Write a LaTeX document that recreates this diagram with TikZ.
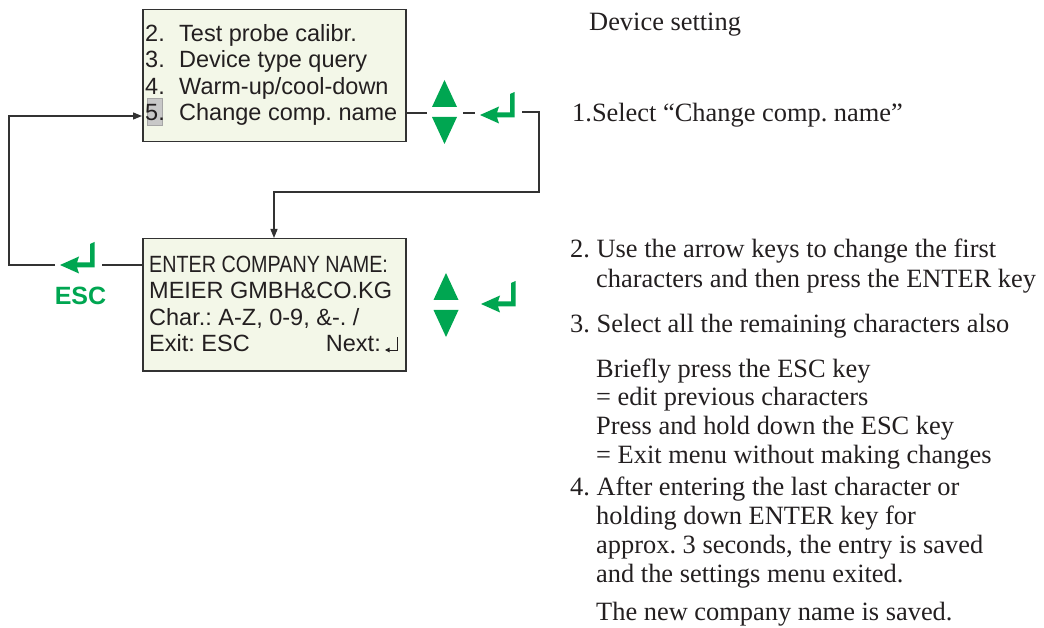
\documentclass[tikz,border=0pt]{standalone}
\usepackage{graphicx}
\usepackage{fontspec}
\setmainfont{Liberation Serif}
\newfontfamily\arialfont{Liberation Sans}
\usetikzlibrary{arrows.meta}
\definecolor{keygreen}{RGB}{0,166,81}
\definecolor{boxfill}{RGB}{243,247,232}
\definecolor{linegray}{RGB}{50,50,50}
\definecolor{hlgray}{RGB}{200,200,200}
\definecolor{ink}{RGB}{35,31,32}
\frenchspacing
\begin{document}
\begin{tikzpicture}[x=1pt,y=-1pt,
  lcd/.style={draw=linegray, line width=1.5pt, fill=boxfill, inner sep=0pt, anchor=north west, minimum width=263pt, minimum height=132pt},
  lcdtext/.style={anchor=base west, inner sep=0pt, text=ink, font=\arialfont\fontsize{23.5}{26}\selectfont},
  desc/.style={anchor=base west, inner sep=0pt, text=ink, font=\fontsize{26.4}{29}\selectfont},
  conn/.style={draw=linegray, line width=1.3pt},
  tipped/.style={-{Triangle[length=9pt,width=7pt]}},
  enterkey/.pic={\fill[keygreen] (0,0) -- (19,-8.5) -- (17,-2.5) -- (30,-2.5) -- (30,-21) -- (34.5,-23) -- (34.5,2.5) -- (17,2.5) -- (19,8.5) -- cycle;},
  updown/.pic={\fill[keygreen] (-12.5,0) -- (12.5,0) -- (0,-27) -- cycle;
               \fill[keygreen] (-12.5,10) -- (12.5,10) -- (0,37) -- cycle;}
]
\useasboundingbox (0,0) rectangle (1044,628);

% ---- top display
\node[lcd] (box1) at (142,9) {};
\node[fill=hlgray, draw=black!35, line width=0.6pt, inner sep=0pt, anchor=north west,
      minimum width=15pt, minimum height=27pt] (hl5) at (147,98) {};
\node[lcdtext] (n2) at (145,42) {2.};
\node[lcdtext] (m2) at (179,42) {Test probe calibr.};
\node[lcdtext] (n3) at (145,68) {3.};
\node[lcdtext] (m3) at (179,68) {Device type query};
\node[lcdtext] (n4) at (145,95) {4.};
\node[lcdtext] (m4) at (179,95) {Warm-up/cool-down};
\node[lcdtext] (n5) at (145,121) {5.};
\node[lcdtext] (m5) at (179,121) {Change comp. name};

% ---- bottom display
\node[lcd] (box2) at (142,238) {};
\node[lcdtext] (e1) at (149,273) {\scalebox{0.84}[1]{ENTER COMPANY NAME:}};
\node[lcdtext] (e2) at (149,299) {MEIER GMBH\&CO.KG};
\node[lcdtext] (e3) at (149,325) {Char.: A-Z, 0-9, \&-. /};
\node[lcdtext] (e4) at (149,352) {Exit: ESC};
\node[lcdtext, anchor=base east] (e5) at (381,352) {Next:};
\coordinate (r1) at (397,337);
\coordinate (r2) at (397,350);
\coordinate (r3) at (385,350);
\draw[draw=ink, line width=1pt, -{Triangle[length=4.5pt,width=4.5pt]}] (r1) -- (r2) -- (r3);

% ---- keys
\pic at (444.5,107) {updown};
\pic at (480,115) {enterkey};
\pic at (446,300) {updown};
\pic at (481,304) {enterkey};
\pic at (60,265) {enterkey};
\node[anchor=base, inner sep=0pt, text=keygreen, font=\arialfont\bfseries\fontsize{25}{25}\selectfont] (esc) at (80.5,305) {ESC};

% ---- connectors
\coordinate (a1) at (427,113);
\coordinate (a2) at (463,113);
\coordinate (a3) at (475,113);
\coordinate (a4) at (522,112);
\coordinate (a5) at (539,112);
\coordinate (a6) at (274,192);
\draw[conn] (box1.east |- a1) -- (a1);
\draw[conn] (a2) -- (a3);
\draw[conn, tipped] (a4) -- (a5) |- (a6) -- (a6 |- box2.north);

\coordinate (b1) at (9,116);
\coordinate (b2) at (9,265);
\coordinate (b3) at (55,265);
\coordinate (b4) at (102,265);
\draw[conn, tipped] (b3) -- (b2) -- (b1) -- (b1 -| box1.west);
\draw[conn] (b4) -- (b4 -| box2.west);

% ---- description
\node[desc] (t0) at (589,31) {Device setting};
\node[desc] (t1) at (572,122) {1.Select “Change comp. name”};
\node[desc] (t2a) at (570,258) {2. Use the arrow keys to change the first};
\node[desc] (t2b) at (596,288) {characters and then press the ENTER key};
\node[desc] (t3a) at (570,333) {3. Select all the remaining characters also};
\node[desc] (t3b) at (596,377) {Briefly press the ESC key};
\node[desc] (t3c) at (596,405) {= edit previous characters};
\node[desc] (t3d) at (596,434) {Press and hold down the ESC key};
\node[desc] (t3e) at (596,463) {= Exit menu without making changes};
\node[desc] (t4a) at (570,495) {4. After entering the last character or};
\node[desc] (t4b) at (596,524) {holding down ENTER key for};
\node[desc] (t4c) at (596,553) {approx. 3 seconds, the entry is saved};
\node[desc] (t4d) at (596,582) {and the settings menu exited.};
\node[desc] (t5) at (596,620) {The new company name is saved.};
\end{tikzpicture}
\end{document}
